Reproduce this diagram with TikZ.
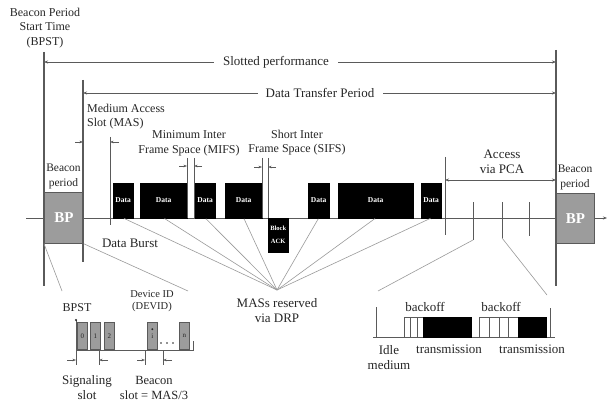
\documentclass[tikz,border=0pt]{standalone}
\usepackage{fontspec}
\setmainfont{Liberation Serif}
\usetikzlibrary{arrows.meta}
\definecolor{lnc}{HTML}{5A5A5A}
\definecolor{fanc}{HTML}{9A9A9A}
\definecolor{bpg}{HTML}{9C9C9C}
\definecolor{txt}{HTML}{262626}
\begin{document}
\begin{tikzpicture}[x=1pt,y=-1pt,
  arr/.style={-{Stealth[length=4pt,width=3pt]}},
  arrs/.style={-{Stealth[length=3.5pt,width=2.6pt]}},
  vbar/.style={draw=lnc,line width=1.5pt},
  thinln/.style={draw=lnc,line width=0.6pt},
  fanl/.style={draw=fanc,line width=0.6pt},
  tx/.style={font=\fontsize{13}{15}\selectfont,align=center,inner sep=0pt,text=txt},
  ts/.style={font=\fontsize{12}{14.5}\selectfont,align=center,inner sep=0pt,text=txt},
  datab/.style={fill=black,draw=black,line width=0.4pt,inner sep=0pt,anchor=south west,minimum height=35pt,text=white,font=\fontsize{7.5}{8}\selectfont\bfseries},
  bpbox/.style={fill=bpg,draw=lnc,line width=0.8pt,inner sep=0pt,anchor=north west,text=white,font=\fontsize{15}{15}\selectfont\bfseries},
  slotbox/.style={fill=bpg,draw=lnc,line width=0.6pt,inner sep=0pt,anchor=south west,minimum width=10pt,minimum height=27pt,text=txt,font=\fontsize{7}{7}\selectfont},
  cellbox/.style={fill=white,draw=lnc,line width=0.5pt,inner sep=0pt,anchor=south west,minimum height=20pt},
  blkbox/.style={fill=black,draw=black,line width=0.4pt,inner sep=0pt,anchor=south west,minimum height=20pt}
]
\useasboundingbox (0,0) rectangle (608,401);
\fill[white] (0,0) rectangle (608,401);

% main timeline
\coordinate (tlA) at (26,218);
\coordinate (tlB) at (607,218);
\draw[thinln,arr] (tlA) -- (tlB);

% BP boxes
\node[bpbox,minimum width=39pt,minimum height=51pt] (bp1) at (44,192) {BP};
\node[bpbox,minimum width=38pt,minimum height=50pt] (bp2) at (556,193) {BP};

% vertical bars
\coordinate (bpstT) at (44,52);  \coordinate (bpstB) at (44,286);
\coordinate (dtpT) at (83,80);   \coordinate (dtpB) at (83,262);
\coordinate (endT) at (556,50);  \coordinate (endB) at (556,286);
\draw[vbar] (bpstT) -- (bpstB);
\draw[vbar] (dtpT) -- (dtpB);
\draw[vbar] (endT) -- (endB);

% top labels
\node[ts] (bpst) at (45,28) {Beacon Period\\Start Time\\(BPST)};
\node[ts,font=\fontsize{11.5}{15}\selectfont] (bpl1) at (63.5,176) {Beacon\\period};
\node[ts,font=\fontsize{11.5}{15}\selectfont] (bpl2) at (575,177) {Beacon\\period};

\node[tx] (sp) at (276,62) {Slotted performance};
\draw[thinln,arr] ([xshift=-9pt]sp.west) -- (sp.west -| bpstT);
\draw[thinln,arr] ([xshift=9pt]sp.east) -- (sp.east -| endT);

\node[tx] (dtp) at (320,93) {Data Transfer Period};
\draw[thinln,arr] ([xshift=-8pt]dtp.west) -- (dtp.west -| dtpT);
\draw[thinln,arr] ([xshift=9pt]dtp.east) -- (dtp.east -| endT);

% MAS
\node[ts,align=left,anchor=west] (masl) at (87,116.5) {Medium Access\\Slot (MAS)};
\coordinate (masT) at (110,137); \coordinate (masB) at (110,225);
\draw[thinln] (masT) -- (masB);
\coordinate (masA) at (83,142); \coordinate (masC) at (110,142);
\draw[thinln,arrs] ([xshift=-8pt]masA) -- (masA);
\draw[thinln,arrs] ([xshift=9pt]masC) -- (masC);

% data blocks
\node[datab,minimum width=20pt] (d1) at (113,218) {Data};
\node[datab,minimum width=47pt] (d2) at (140,218) {Data};
\node[datab,minimum width=20pt] (d3) at (195,218) {Data};
\node[datab,minimum width=37pt] (d4) at (225,218) {Data};
\node[datab,minimum width=21pt] (d5) at (308,218) {Data};
\node[datab,minimum width=75pt] (d6) at (338,218) {Data};
\node[datab,minimum width=20pt] (d7) at (421,218) {Data};
\node[datab,anchor=north west,minimum width=20pt,minimum height=34pt,align=center,font=\fontsize{6.5}{13}\selectfont\bfseries] (ack) at (268,218) {Block\\ACK};

% MIFS
\node[ts] (mifs) at (189,143.5) {Minimum Inter\\Frame Space (MIFS)};
\coordinate (mifsAT) at (187,158); \coordinate (mifsAB) at (187,218);
\coordinate (mifsBT) at (194,158); \coordinate (mifsBB) at (194,218);
\draw[thinln] (mifsAT) -- (mifsAB);
\draw[thinln] (mifsBT) -- (mifsBB);
\coordinate (mifsA) at (187,166); \coordinate (mifsB) at (194,166);
\draw[thinln,arrs] ([xshift=-8pt]mifsA) -- (mifsA);
\draw[thinln,arrs] ([xshift=8pt]mifsB) -- (mifsB);

% SIFS
\node[ts] (sifs) at (297,142.5) {Short Inter\\Frame Space (SIFS)};
\coordinate (sifsAT) at (262,158); \coordinate (sifsAB) at (262,218);
\coordinate (sifsBT) at (268,158); \coordinate (sifsBB) at (268,218);
\draw[thinln] (sifsAT) -- (sifsAB);
\draw[thinln] (sifsBT) -- (sifsBB);
\coordinate (sifsA) at (262,167); \coordinate (sifsB) at (268,167);
\draw[thinln,arrs] ([xshift=-8pt]sifsA) -- (sifsA);
\draw[thinln,arrs] ([xshift=8pt]sifsB) -- (sifsB);

\node[tx] (db) at (130,243) {Data Burst};

% PCA
\coordinate (pcaT) at (445,157); \coordinate (pcaB) at (445,235);
\draw[thinln] (pcaT) -- (pcaB);
\coordinate (pcaA) at (445,180);
\draw[thinln,{Stealth[length=4pt,width=3pt]}-{Stealth[length=4pt,width=3pt]}] (pcaA) -- (pcaA -| endT);
\node[tx] (pca) at (502,161.5) {Access\\via PCA};
\coordinate (k1T) at (473,202); \coordinate (k1B) at (473,240);
\coordinate (k2T) at (502,202); \coordinate (k2B) at (502,238);
\coordinate (k3T) at (529,202); \coordinate (k3B) at (529,236);
\draw[thinln] (k1T) -- (k1B);
\draw[thinln] (k2T) -- (k2B);
\draw[thinln] (k3T) -- (k3B);

% fan to MASs reserved
\coordinate (mas) at (277,290);
\foreach \d in {d1,d2,d3,d4,d5,d6,d7}{
  \draw[fanl] (\d.south) -- (mas);
  \fill[black] (\d.south) circle (1.2pt);
}
\node[tx] (masr) at (277,310.5) {MASs reserved\\via DRP};

% expansion lines
\coordinate (bl1) at (62,291); \coordinate (bl2) at (188,291);
\draw[fanl] (bp1.south west) -- (bl1);
\draw[fanl] (bp1.south east) -- (bl2);
\coordinate (pr1) at (378,291); \coordinate (pr2) at (547,295);
\draw[fanl] (k1B) -- (pr1);
\draw[fanl] (k2B) -- (pr2);

% bottom-left inset: beacon period
\coordinate (blA) at (76,350); \coordinate (blZ) at (193,350);
\draw[thinln] (blA) -- (blZ) -- ++(0,-9);
\node[slotbox] (s0) at (77,350) {0};
\node[slotbox] (s1) at (90,350) {1};
\node[slotbox] (s2) at (104,350) {2};
\node[slotbox] (si) at (147,350) {i};
\node[slotbox] (sn) at (179,350) {n};
\coordinate (bpstmT) at (76,320); \coordinate (bpstmB) at (76,365);
\draw[thinln] (bpstmT) -- (bpstmB);
\fill[txt] (bpstmT) circle (1.1pt);
\fill[txt] ([yshift=7pt]si.center) circle (1.1pt);
\foreach \xx in {161,167,173} \fill[txt] (\xx,343) circle (0.8pt);
\node[ts] (bpstl) at (77,308) {BPST};
\node[ts,font=\fontsize{10.5}{12.5}\selectfont] (devid) at (152,301) {Device ID\\(DEVID)};
\coordinate (sgAT) at (99,350); \coordinate (sgAB) at (99,365);
\coordinate (bcAT) at (145,350); \coordinate (bcAB) at (145,365);
\coordinate (bcBT) at (163,350); \coordinate (bcBB) at (163,365);
\draw[thinln] (sgAT) -- (sgAB);
\draw[thinln] (bcAT) -- (bcAB);
\draw[thinln] (bcBT) -- (bcBB);
\coordinate (sgL) at (76,360); \coordinate (sgR) at (99,360);
\coordinate (bcL) at (145,360); \coordinate (bcR) at (163,360);
\draw[thinln,arrs] ([xshift=-9pt]sgL) -- (sgL);
\draw[thinln,arrs] ([xshift=9pt]sgR) -- (sgR);
\draw[thinln,arrs] ([xshift=-8pt]bcL) -- (bcL);
\draw[thinln,arrs] ([xshift=9pt]bcR) -- (bcR);
\node[tx] (sig) at (87,387.5) {Signaling\\slot};
\node[tx,font=\fontsize{12.5}{15}\selectfont] (bcn) at (154,387.5) {Beacon\\slot = MAS/3};

% bottom-right inset: PCA access
\coordinate (brA) at (373,337); \coordinate (brZ) at (555,337);
\draw[thinln] (brA) -- (brZ);
\coordinate (brLT) at (376,307); \coordinate (brLB) at (376,337);
\coordinate (brRT) at (550,308); \coordinate (brRB) at (550,337);
\draw[thinln] (brLT) -- (brLB);
\draw[thinln] (brRT) -- (brRB);
\foreach \i in {0,1,2} \node[cellbox,minimum width=6.33pt] (ca\i) at (404+\i*6.33,337) {};
\node[blkbox,minimum width=48pt] (tr1) at (423,337) {};
\foreach \i in {0,1,2,3} \node[cellbox,minimum width=9.75pt] (cb\i) at (479+\i*9.75,337) {};
\node[blkbox,minimum width=28pt] (tr2) at (518,337) {};
\node[tx] (bo1) at (425,307) {backoff};
\node[tx] (bo2) at (501,307) {backoff};
\node[tx] (tl1) at (449,349) {transmission};
\node[tx] (tl2) at (532,349) {transmission};
\node[tx] (idle) at (389,357.5) {Idle\\medium};
\end{tikzpicture}
\end{document}
